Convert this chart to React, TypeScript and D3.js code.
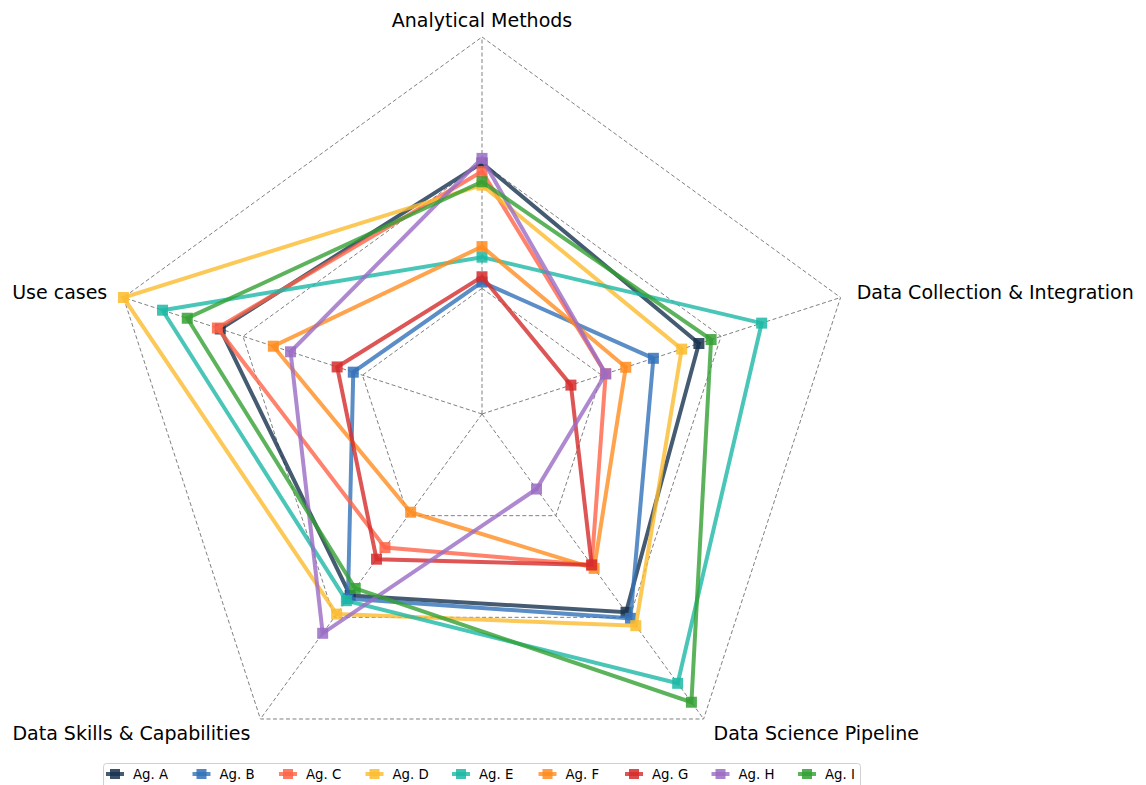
import React from "react";
import * as d3 from "d3";

const axes = [
  "Analytical Methods",
  "Data Collection & Integration",
  "Data Science Pipeline",
  "Data Skills & Capabilities",
  "Use cases",
];

const seriesNames = ["Ag. A", "Ag. B", "Ag. C", "Ag. D", "Ag. E", "Ag. F", "Ag. G", "Ag. H", "Ag. I"];
const seriesColors = [
  "#17324d",
  "#3271b8",
  "#ff6347",
  "#fbbc2e",
  "#1cb8a5",
  "#ff8c1f",
  "#d62b2b",
  "#9a6cc4",
  "#33a033",
];

const agA = [0.666, 0.605, 0.65, 0.595, 0.73];
const agB = [0.35, 0.478, 0.67, 0.605, 0.359];
const agC = [0.643, 0.345, 0.495, 0.438, 0.738];
const agD = [0.607, 0.557, 0.694, 0.656, 1.0];
const agE = [0.416, 0.78, 0.883, 0.612, 0.891];
const agF = [0.444, 0.401, 0.506, 0.322, 0.582];
const agG = [0.364, 0.248, 0.495, 0.476, 0.404];
const agH = [0.678, 0.345, 0.246, 0.719, 0.534];
const agI = [0.616, 0.639, 0.945, 0.572, 0.822];

const seriesValues = [agA, agB, agC, agD, agE, agF, agG, agH, agI];
const gridLevels = [1 / 3, 2 / 3, 1];

const W = 1146;
const H = 785;
const cx = 482;
const cy = 414;
const R = 377;

export default function App() {
  const r = d3.scaleLinear().domain([0, 1]).range([0, R]);
  const n = axes.length;
  const angle = (i: number) => (i * 2 * Math.PI) / n; // clockwise from top
  const pt = (i: number, v: number): [number, number] => [
    cx + r(v) * Math.sin(angle(i)),
    cy - r(v) * Math.cos(angle(i)),
  ];
  const lineGen = d3.line<[number, number]>().curve(d3.curveLinearClosed);

  const labelR = 394;
  const anchors = ["middle", "start", "start", "end", "end"];

  const legendX0 = 115;
  const legendStep = 86.5;
  const legendY = 774;

  return (
    <svg
      width={W}
      height={H}
      style={{ position: "absolute", left: 0, top: 0, fontFamily: "DejaVu Sans, sans-serif" }}
    >
      <rect x={0} y={0} width={W} height={H} fill="#fff" />
      {/* grid */}
      <g fill="none" stroke="#808080" strokeWidth={1} strokeDasharray="4,2.5">
        {gridLevels.map((lv, k) => (
          <path key={k} d={lineGen(axes.map((_, i) => pt(i, lv))) || ""} />
        ))}
        {axes.map((_, i) => {
          const [x, y] = pt(i, 1);
          return <line key={i} x1={cx} y1={cy} x2={x} y2={y} />;
        })}
      </g>
      {/* series */}
      {seriesValues.map((vals, s) => {
        const pts = vals.map((v, i) => pt(i, v));
        return (
          <g key={s}>
            <path
              d={lineGen(pts) || ""}
              fill="none"
              stroke={seriesColors[s]}
              strokeWidth={4}
              strokeOpacity={0.8}
              strokeLinejoin="miter"
            />
            {pts.map(([x, y], i) => (
              <rect
                key={i}
                x={x - 5.5}
                y={y - 5.5}
                width={11}
                height={11}
                fill={seriesColors[s]}
                fillOpacity={0.85}
              />
            ))}
          </g>
        );
      })}
      {/* axis labels */}
      {axes.map((a, i) => {
        const [x, y] = pt(i, labelR / R);
        return (
          <text
            key={a}
            x={x}
            y={y}
            textAnchor={anchors[i]}
            dominantBaseline="central"
            fontSize={19}
            fill="#000"
          >
            {a}
          </text>
        );
      })}
      {/* legend */}
      <rect
        x={103.5}
        y={763.5}
        width={757}
        height={32}
        rx={3}
        fill="#fff"
        fillOpacity={0.8}
        stroke="#d0d0d0"
        strokeWidth={1}
      />
      {seriesNames.map((name, s) => {
        const mx = legendX0 + s * legendStep;
        return (
          <g key={name}>
            <line
              x1={mx - 9}
              x2={mx + 9}
              y1={legendY}
              y2={legendY}
              stroke={seriesColors[s]}
              strokeWidth={4}
              strokeOpacity={0.8}
            />
            <rect
              x={mx - 5}
              y={legendY - 5}
              width={10}
              height={10}
              fill={seriesColors[s]}
              fillOpacity={0.85}
            />
            <text x={mx + 18} y={legendY} dominantBaseline="central" fontSize={13.3} fill="#000">
              {name}
            </text>
          </g>
        );
      })}
    </svg>
  );
}
